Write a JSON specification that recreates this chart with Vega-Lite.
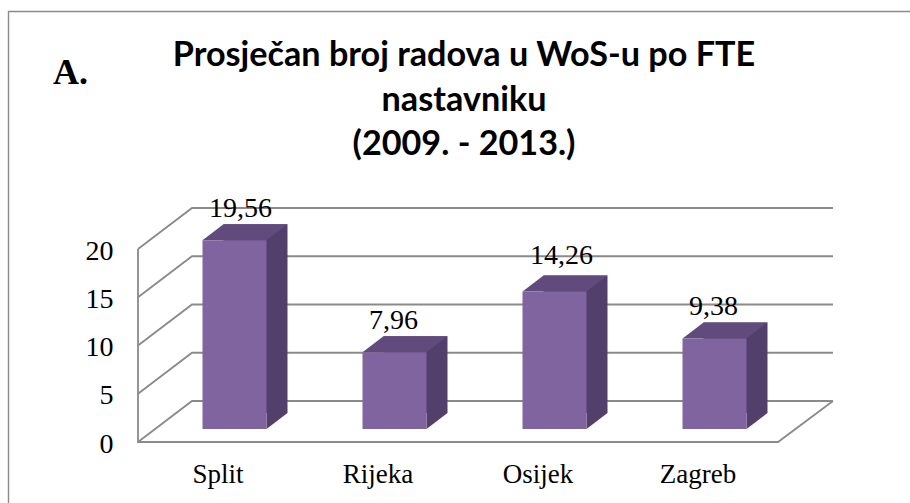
{
"$schema":"https://vega.github.io/schema/vega-lite/v6.json",
"width":640,"height":193,
"autosize":{"type":"none"},
"padding":{"left":138,"top":249,"right":132,"bottom":61},
"background":"white",
"view":{"stroke":null},
"data":{"values":[{"city":"Split","value":19.56,"label":"19,56"},{"city":"Rijeka","value":7.96,"label":"7,96"},{"city":"Osijek","value":14.26,"label":"14,26"},{"city":"Zagreb","value":9.38,"label":"9,38"}]},
"encoding":{
"x":{"field":"city","type":"nominal","sort":["Split","Rijeka","Osijek","Zagreb"],"title":null,"scale":{"paddingInner":0,"paddingOuter":0},"axis":{"domain":false,"ticks":false,"labelAngle":0,"labelFont":"Liberation Serif","labelFontSize":27,"labelColor":"#000000","labelPadding":19}},
"y":{"field":"value","type":"quantitative","title":null,"scale":{"domain":[0,20],"nice":false},"axis":{"domain":false,"ticks":false,"grid":false,"values":[0,5,10,15,20],"labelFont":"Liberation Serif","labelFontSize":28,"labelColor":"#000000","labelPadding":25,"labelOffset":2}}
},
"layer":[
{"data":{"values":[{"tick":0},{"tick":5},{"tick":10},{"tick":15},{"tick":20}]},
 "mark":{"type":"point","shape":"M0 0 L54 -41 L695 -41","size":4,"filled":false,"stroke":"#8a8a8a","strokeWidth":1.8,"opacity":1,"clip":false},
 "encoding":{"x":{"value":0},"y":{"field":"tick","type":"quantitative"}}},
{"data":{"values":[{"tick":0}]},
 "mark":{"type":"point","shape":"M0 -193 L0 0 L640 0 L695 -41","size":4,"filled":false,"stroke":"#8a8a8a","strokeWidth":1.8,"opacity":1,"clip":false},
 "encoding":{"x":{"value":0},"y":{"field":"tick","type":"quantitative"}}},
{"data":{"values":[{"tick":0}]},
 "mark":{"type":"point","shape":"M-129.5 70 L-129.5 -430.5 L772 -430.5","size":4,"filled":false,"stroke":"#8a8a8a","strokeWidth":1.4,"opacity":1,"clip":false},
 "encoding":{"x":{"value":0},"y":{"field":"tick","type":"quantitative"}}},
{"mark":{"type":"bar","width":64,"xOffset":37.5,"yOffset":-29,"y2Offset":-29,"fill":"#533f6c"},"encoding":{"y2":{"datum":0}}},
{"mark":{"type":"point","shape":"M48.5 -13 L48.5 -29 L69.5 -29 Z","size":4,"filled":true,"fill":"#533f6c","opacity":1,"strokeWidth":0},"encoding":{"y":{"datum":0}}},
{"mark":{"type":"point","shape":"M-15.5 -13 L48.5 -13 L69.5 -29 L5.5 -29 Z","size":4,"filled":true,"fill":"#614a7c","opacity":1,"strokeWidth":0,"clip":false}},
{"mark":{"type":"bar","width":64,"xOffset":16.5,"yOffset":-13,"y2Offset":-13,"fill":"#8064a0"},"encoding":{"y2":{"datum":0}}},
{"transform":[{"filter":"datum.city !== 'Osijek'"}],"mark":{"type":"text","font":"Liberation Serif","fontSize":28,"color":"#000000","align":"left","dx":-9,"dy":-36,"baseline":"alphabetic"},"encoding":{"text":{"field":"label"}}},
{"transform":[{"filter":"datum.city === 'Osijek'"}],"mark":{"type":"text","font":"Liberation Serif","fontSize":28,"color":"#000000","align":"left","dx":-8,"dy":-40,"baseline":"alphabetic"},"encoding":{"text":{"field":"label"}}},
{"data":{"values":[{"note":"A."}]},
 "mark":{"type":"text","font":"Liberation Serif","fontWeight":"bold","fontSize":36,"color":"#000000","align":"left","baseline":"alphabetic"},
 "encoding":{"x":{"value":-85},"y":{"value":-165},"text":{"field":"note"}}},
{"data":{"values":[{"heading":"Prosječan broj radova u WoS-u po FTE|nastavniku|(2009. - 2013.)"}]},
 "mark":{"type":"text","font":"Lato","fontWeight":"bold","fontSize":34.2,"lineHeight":44.5,"lineBreak":"|","color":"#000000","align":"center","baseline":"alphabetic"},
 "encoding":{"x":{"value":326},"y":{"value":-183},"text":{"field":"heading"}}}
]
}
